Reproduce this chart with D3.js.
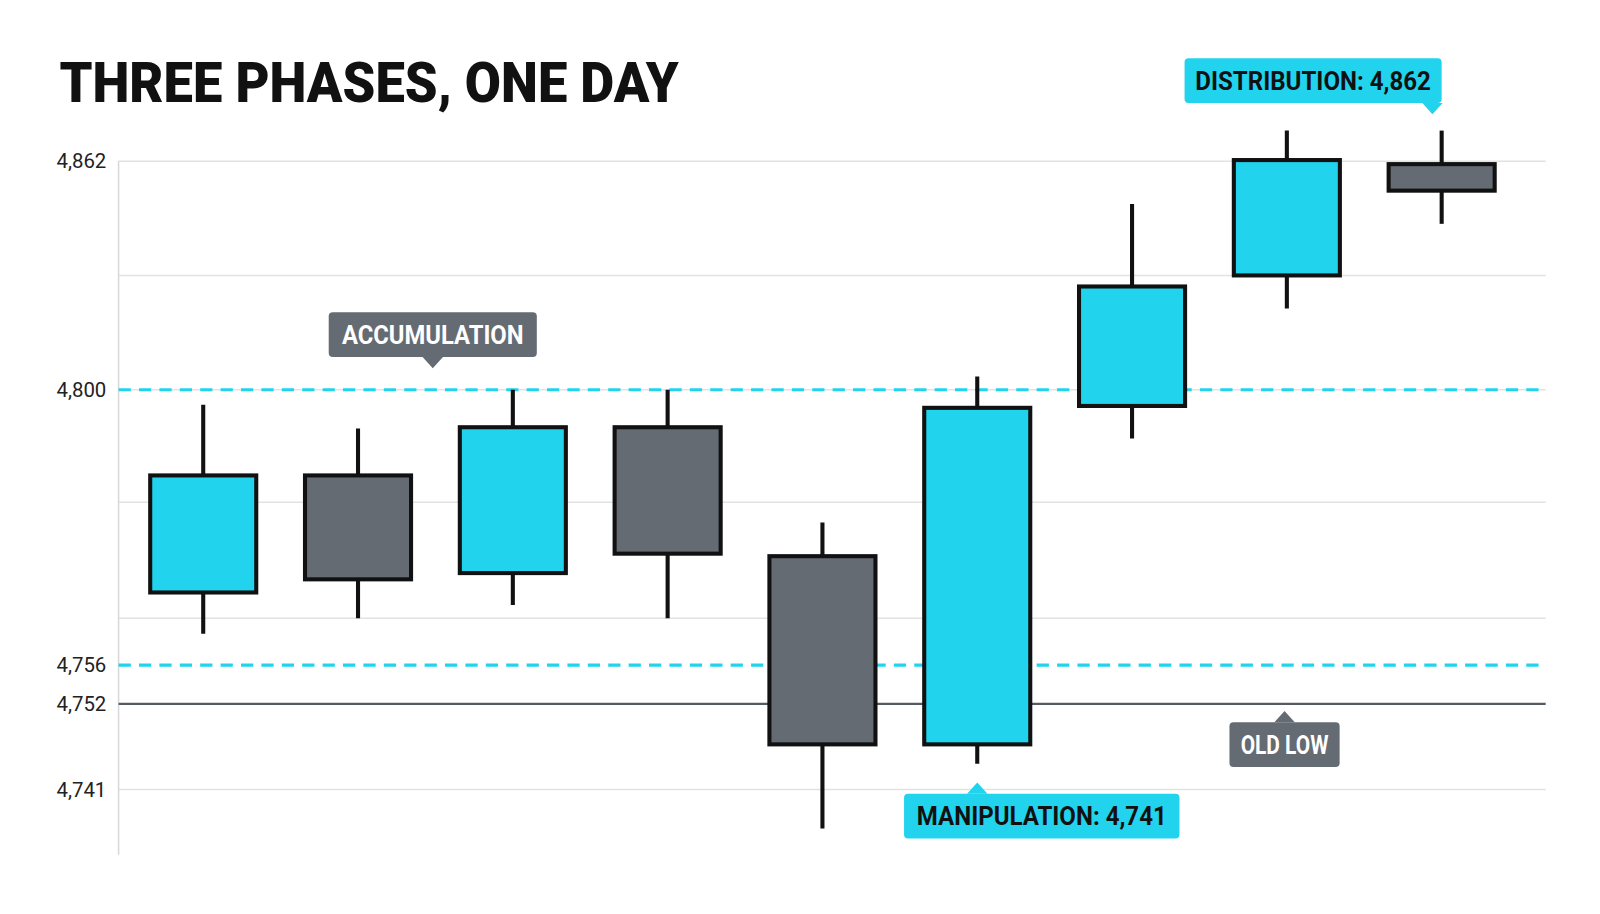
<!DOCTYPE html>
<html lang="en">
<head>
<meta charset="UTF-8">
<title>Three Phases, One Day</title>
<script src="https://d3js.org/d3.v7.min.js"></script>
<style>
  body { margin: 0; background: #fff; font-family: Roboto, sans-serif; }
  .tick-label { font-size: 20px; fill: #222; }
  .tag { font-family: Roboto, sans-serif; font-weight: bold; font-size: 25px; }
</style>
</head>
<body>
<svg id="chart" width="1600" height="914" viewBox="0 0 1568 896"></svg>
<script>
// candles: open, high, low, close
const opens  = [4767.6, 4786.3, 4770.7, 4794.0, 4773.4, 4746.8, 4797.4, 4831.0, 4861.2];
const highs  = [4797.6, 4793.8, 4800.0, 4800.0, 4778.8, 4803.6, 4850.4, 4870.3, 4870.3];
const lows   = [4761.0, 4763.5, 4765.6, 4763.5, 4736.0, 4744.3, 4792.2, 4822.0, 4845.0];
const closes = [4786.3, 4769.7, 4794.0, 4773.8, 4746.8, 4797.1, 4828.0, 4862.3, 4854.0];

const tickValues = [4741, 4752, 4756, 4800, 4862];
const gridValues = [4741, 4763.5, 4782, 4800, 4831, 4862];
const dashedLevels = [4800, 4756];
const oldLow = 4752;

const svg = d3.select("#chart");
const cyan = "#22d3ee", gray = "#656b73", ink = "#111";

const x = d3.scaleBand().domain(d3.range(opens.length)).range([147, 1465]).paddingInner(0.315).paddingOuter(0);
// the picture's axis is not evenly spaced, so map each labelled level piecewise
const y = d3.scaleLinear().domain(tickValues).range([774, 690, 652, 382, 158]);

const x0 = 116, x1 = 1515;

svg.append("text").attr("x", 58).attr("y", 100)
  .attr("textLength", 607).attr("lengthAdjust", "spacingAndGlyphs")
  .style("font-family", "Roboto").style("font-weight", 900).style("font-size", "54px").style("fill", ink)
  .text("THREE PHASES, ONE DAY");

svg.selectAll(".grid").data(gridValues).enter().append("line")
  .attr("x1", x0).attr("x2", x1).attr("y1", d => y(d)).attr("y2", d => y(d))
  .attr("stroke", "#e2e2e2").attr("stroke-width", 1.5);

svg.append("line").attr("x1", x0).attr("x2", x0).attr("y1", 158).attr("y2", 838)
  .attr("stroke", "#d8d8d8").attr("stroke-width", 1.5);

svg.selectAll(".dash").data(dashedLevels).enter().append("line")
  .attr("x1", x0).attr("x2", x1).attr("y1", d => y(d)).attr("y2", d => y(d))
  .attr("stroke", cyan).attr("stroke-width", 3).attr("stroke-dasharray", "12,8");

svg.append("line").attr("x1", x0).attr("x2", x1).attr("y1", y(oldLow)).attr("y2", y(oldLow))
  .attr("stroke", "#555b63").attr("stroke-width", 2);

svg.selectAll(".tick-label").data(tickValues).enter().append("text")
  .attr("class", "tick-label").attr("x", 104).attr("y", d => y(d) + 7)
  .attr("text-anchor", "end").text(d3.format(","));

const candles = svg.selectAll(".candle").data(opens).enter().append("g");
candles.append("line")
  .attr("x1", (d, i) => x(i) + x.bandwidth() / 2).attr("x2", (d, i) => x(i) + x.bandwidth() / 2)
  .attr("y1", (d, i) => y(highs[i])).attr("y2", (d, i) => y(lows[i]))
  .attr("stroke", ink).attr("stroke-width", 4);
candles.append("rect")
  .attr("x", (d, i) => x(i)).attr("width", x.bandwidth())
  .attr("y", (d, i) => y(Math.max(d, closes[i])))
  .attr("height", (d, i) => Math.abs(y(d) - y(closes[i])))
  .attr("fill", (d, i) => closes[i] >= d ? cyan : gray)
  .attr("stroke", ink).attr("stroke-width", 4);

function tag(text, cx, cy, w, tw, fill, color, pointer, px) {
  const h = 44, g = svg.append("g");
  g.append("rect").attr("x", cx - w / 2).attr("y", cy - h / 2).attr("width", w).attr("height", h)
    .attr("rx", 4).attr("fill", fill);
  const tip = pointer === "down"
    ? [[px - 10, cy + h / 2], [px + 10, cy + h / 2], [px, cy + h / 2 + 11]]
    : [[px - 10, cy - h / 2], [px + 10, cy - h / 2], [px, cy - h / 2 - 11]];
  g.append("path").attr("d", d3.line()(tip)).attr("fill", fill);
  g.append("text").attr("class", "tag").attr("x", cx).attr("y", cy + 9)
    .attr("text-anchor", "middle").attr("fill", color)
    .attr("textLength", tw).attr("lengthAdjust", "spacingAndGlyphs").text(text);
}

tag("ACCUMULATION", 424, 328, 204, 178, gray, "#fff", "down", 424);
tag("DISTRIBUTION: 4,862", 1287, 79, 252, 231, cyan, ink, "down", 1404);
tag("MANIPULATION: 4,741", 1021, 800, 270, 245, cyan, ink, "up", x(5) + x.bandwidth() / 2);
tag("OLD LOW", 1259, 730, 108, 86, gray, "#fff", "up", 1259);
</script>
</body>
</html>
